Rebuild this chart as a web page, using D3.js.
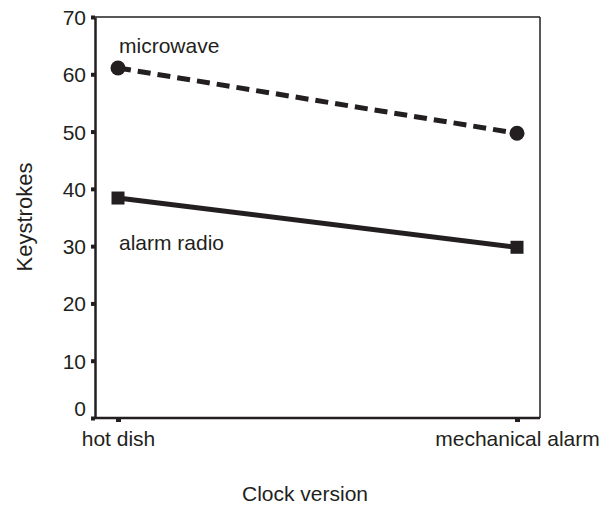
<!DOCTYPE html>
<html>
<head>
<meta charset="utf-8">
<script src="https://cdn.jsdelivr.net/npm/d3@7"></script>
<style>
  body { margin: 0; background: #fff; }
  text { font-family: "Liberation Sans", Arial, sans-serif; fill: #231f20; }
</style>
</head>
<body>
<script>
// data
var categories = ["hot dish", "mechanical alarm"];
var microwave = [61.1, 49.7];
var alarmRadio = [38.4, 29.8];
var yTicks = [0, 10, 20, 30, 40, 50, 60, 70];

var W = 599, H = 509;
var m = {left: 95, right: 540, top: 17, bottom: 418};
var ink = "#231f20";
var fs = 21;

var svg = d3.select("body").append("svg")
    .attr("width", W)
    .attr("height", H);

var x = d3.scalePoint()
    .domain(categories)
    .range([118, 517]);

var y = d3.scaleLinear()
    .domain([0, 70])
    .range([m.bottom, m.top]);

// frame: top/right thin, left/bottom heavier
svg.append("line").attr("x1", m.left).attr("x2", m.right).attr("y1", m.top).attr("y2", m.top)
    .attr("stroke", ink).attr("stroke-width", 1.5);
svg.append("line").attr("x1", m.right).attr("x2", m.right).attr("y1", m.top).attr("y2", m.bottom)
    .attr("stroke", ink).attr("stroke-width", 1.5);

// y axis
var yAxis = svg.append("g")
    .attr("transform", `translate(${m.left},0)`)
    .call(d3.axisLeft(y).tickValues(yTicks).tickSize(0).tickPadding(9));
yAxis.select(".domain").attr("stroke", ink).attr("stroke-width", 2.5);
yAxis.selectAll("text").attr("font-size", fs).attr("fill", ink)
    .attr("font-family", "Liberation Sans, Arial, sans-serif")
    .attr("dy", d => d === 0 ? "-0.12em" : "0.36em");
yAxis.selectAll(".tick").append("rect")
    .attr("x", -4).attr("y", -2).attr("width", 4).attr("height", 4).attr("fill", ink);

// x axis
var xAxis = svg.append("g")
    .attr("transform", `translate(0,${m.bottom})`)
    .call(d3.axisBottom(x).tickSize(0).tickPadding(0));
xAxis.select(".domain").attr("d", `M${m.left},0H${m.right}`).attr("stroke", ink).attr("stroke-width", 2.5);
xAxis.selectAll("text").attr("font-size", fs).attr("fill", ink)
    .attr("font-family", "Liberation Sans, Arial, sans-serif")
    .attr("dy", null).attr("y", 28);
xAxis.selectAll(".tick").append("rect")
    .attr("x", -2.5).attr("y", 0).attr("width", 5).attr("height", 4).attr("fill", ink);

var line = d3.line()
    .x((d, i) => x(categories[i]))
    .y(d => y(d));

// microwave (dashed, circles)
svg.append("path")
    .datum(microwave)
    .attr("d", line)
    .attr("fill", "none")
    .attr("stroke", ink)
    .attr("stroke-width", 5)
    .attr("stroke-dasharray", "13,7");
svg.selectAll(".mw")
    .data(microwave)
    .enter().append("circle")
    .attr("cx", (d, i) => x(categories[i]))
    .attr("cy", d => y(d))
    .attr("r", 7.5)
    .attr("fill", ink);

// alarm radio (solid, squares)
svg.append("path")
    .datum(alarmRadio)
    .attr("d", line)
    .attr("fill", "none")
    .attr("stroke", ink)
    .attr("stroke-width", 5);
svg.selectAll(".ar")
    .data(alarmRadio)
    .enter().append("rect")
    .attr("x", (d, i) => x(categories[i]) - 6.5)
    .attr("y", d => y(d) - 6.5)
    .attr("width", 13)
    .attr("height", 13)
    .attr("fill", ink);

// series labels
svg.append("text").attr("x", 119).attr("y", 53).attr("font-size", fs).text("microwave");
svg.append("text").attr("x", 119).attr("y", 250).attr("font-size", fs).text("alarm radio");

// axis titles
svg.append("text")
    .attr("transform", "translate(32,217) rotate(-90)")
    .attr("text-anchor", "middle")
    .attr("font-size", 22)
    .text("Keystrokes");
svg.append("text")
    .attr("x", 305).attr("y", 501)
    .attr("text-anchor", "middle")
    .attr("font-size", fs)
    .text("Clock version");
</script>
</body>
</html>
